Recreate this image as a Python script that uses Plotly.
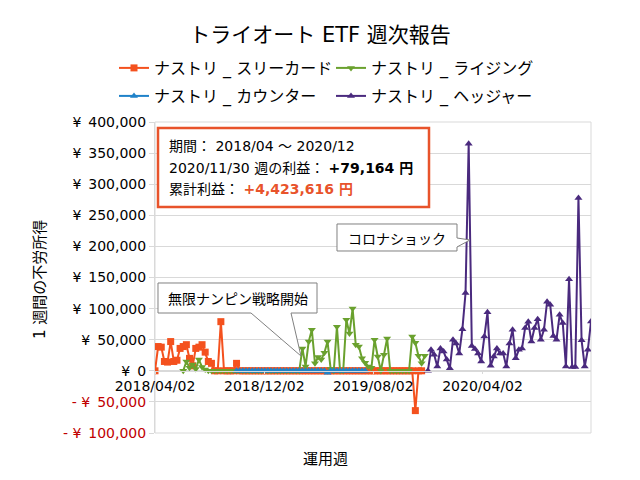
import pandas as pd
import plotly.graph_objects as go

# ---------------- data ----------------
start_date = "2018-04-02"
n_weeks = 140
weeks = pd.date_range(start_date, periods=n_weeks, freq="7D")

three_card_start = 0
three_card = [0, 39000, 38000, 15000, 14000, 47000, 15000, 17000, 36000, 39000,
              42000, 20000, 8000, 36000, 38000, 42000, 30000, 15000, 12000, 0,
              0, 79000, 0, 0, 0, 0, 12000] + [0] * 56 + [-64000, 0, 0]

rising_start = 9
rising = [0, 15000, 5000, 10000, 3000, 18000, 6000, 2000] + [0] * 30 + \
         [36000, 7000, 47000, 66000, 12000, 22000, 18000, 29000, 47000, 3000,
          0, 71000, 0, 0, 82000, 60000, 100000, 42000, 39000, 20000,
          13000, 7000, 5000, 50000, 23000, 0, 26000, 52000, 0] + [0] * 6 + \
         [55000, 45000, 24000, 12000, 24000]

counter_start = 26
counter = [0] * 29 + [-3000] + [0] * 12

hedger_start = 87
hedger = [0, 34000, 26000, 7000, 36000, 31000, 18000, 4000, 50000, 44000,
          28000, 67000, 125000, 365000, 40000, 35000, 28000, 15000, 55000, 94000,
          8000, 23000, 36000, 28000, 28000, 7000, 44000, 66000, 20000, 34000,
          36000, 69000, 79000, 47000, 69000, 83000, 50000, 66000, 111000, 106000,
          56000, 50000, 90000, 77000, 7000, 147000, 6000, 6000, 278000, 49000,
          7000, 34000, 79164]

series_names = ["ナストリ _ スリーカード", "ナストリ _ ライジング",
                "ナストリ _ カウンター", "ナストリ _ ヘッジャー"]

SP = "\u2002"
y_tick_vals = [400000, 350000, 300000, 250000, 200000, 150000, 100000, 50000, 0, -50000, -100000]
y_tick_text = [f"¥{SP}400,000", f"¥{SP}350,000", f"¥{SP}300,000", f"¥{SP}250,000", f"¥{SP}200,000",
               f"¥{SP}150,000", f"¥{SP}100,000", f"¥{SP}50,000", f"¥{SP}0",
               f"<span style='color:#c00000'>- ¥{SP}50,000</span>",
               f"<span style='color:#c00000'>- ¥{SP}100,000</span>"]

title_text = "トライオート ETF 週次報告"
info_lines = ["期間： 2018/04 ～ 2020/12",
              "2020/11/30 週の利益： <b>+79,164 円</b>",
              "累計利益： <b><span style='color:#e8532b'>+4,423,616 円</span></b>"]


def full(start, vals):
    out = [None] * n_weeks
    for i, v in enumerate(vals):
        out[start + i] = v
    return out


# ---------------- layout helpers ----------------
W, H = 640, 480
PL, PR, PT, PB = 155, 591, 122, 433


def fx(X):
    return (X - PL) / (PR - PL)


def fy(Y):
    return (PB - Y) / (PB - PT)


FONT = "DejaVu Sans, Noto Sans CJK JP"
CJK = "Noto Sans CJK JP"

colors = ["#f4511e", "#6aa12e", "#1f82c9", "#4a2a7e"]
symbols = ["square", "triangle-down", "triangle-up", "triangle-up"]
starts = [three_card_start, rising_start, counter_start, hedger_start]
vals = [three_card, rising, counter, hedger]
legends = ["legend", "legend", "legend2", "legend2"]

fig = go.Figure()
for name, c, s, st, v, lg in zip(series_names, colors, symbols, starts, vals, legends):
    fig.add_trace(go.Scatter(
        x=weeks, y=full(st, v), name=name, mode="lines+markers",
        line=dict(color=c, width=2),
        marker=dict(symbol=s, size=7, color=c),
        connectgaps=False, legend=lg,
    ))


def path(points):
    d = "M " + " L ".join(f"{fx(x):.5f},{fy(y):.5f}" for x, y in points) + " Z"
    return d


shapes = [
    # plot border
    dict(type="rect", xref="paper", yref="paper", x0=0, x1=1, y0=0, y1=1,
         line=dict(color="#d9d9d9", width=1), layer="below"),
    # info box
    dict(type="rect", xref="paper", yref="paper", x0=fx(158), x1=fx(429), y0=fy(128), y1=fy(207),
         line=dict(color="#e8532b", width=2.5), fillcolor="white", layer="above"),
    # callout 1
    dict(type="path", xref="paper", yref="paper",
         path=path([(158, 283), (317, 283), (317, 313), (291, 313), (301, 356), (251, 313), (158, 313)]),
         line=dict(color="#808080", width=1), fillcolor="white", layer="above"),
    # callout 2
    dict(type="path", xref="paper", yref="paper",
         path=path([(337, 224), (457, 224), (457, 238), (470, 240), (457, 247), (457, 251), (337, 251)]),
         line=dict(color="#808080", width=1), fillcolor="white", layer="above"),
]

annotations = [
    dict(text=info_lines[0], x=fx(167), y=fy(146), xref="paper", yref="paper",
         xanchor="left", yanchor="middle", showarrow=False, font=dict(size=14, color="#000")),
    dict(text=info_lines[1], x=fx(167), y=fy(168), xref="paper", yref="paper",
         xanchor="left", yanchor="middle", showarrow=False, font=dict(size=14, color="#000")),
    dict(text=info_lines[2], x=fx(167), y=fy(189), xref="paper", yref="paper",
         xanchor="left", yanchor="middle", showarrow=False, font=dict(size=14, color="#000")),
    dict(text="無限ナンピン戦略開始", x=fx(238), y=fy(298), xref="paper", yref="paper",
         xanchor="center", yanchor="middle", showarrow=False, font=dict(size=14, color="#000", family=CJK)),
    dict(text="コロナショック", x=fx(397), y=fy(237.5), xref="paper", yref="paper",
         xanchor="center", yanchor="middle", showarrow=False, font=dict(size=14, color="#000", family=CJK)),
    dict(text="1 週間の不労所得", x=fx(40), y=fy(280), xref="paper", yref="paper",
         xanchor="center", yanchor="middle", textangle=-90, showarrow=False,
         font=dict(size=15, color="#000")),
    dict(text="運用週", x=fx(325), y=fy(457), xref="paper", yref="paper",
         xanchor="center", yanchor="middle", showarrow=False, font=dict(size=15, color="#000", family=CJK)),
]

zero_pos = 100000 / 500000

fig.update_layout(
    width=W, height=H,
    margin=dict(l=PL, r=W - PR, t=PT, b=H - PB, pad=0, autoexpand=False),
    paper_bgcolor="white", plot_bgcolor="white",
    font=dict(family=FONT, size=15, color="#000"),
    title=dict(text=title_text, x=0.5, xanchor="center", y=1 - 35 / H, yanchor="middle",
               font=dict(size=21, color="#000")),
    xaxis=dict(type="date", range=[weeks[0], weeks[-1]], tick0=start_date, dtick="M8",
               tickformat="%Y/%m/%d", anchor="free", position=zero_pos,
               showline=True, linecolor="#d9d9d9", linewidth=1, showgrid=False, zeroline=False,
               ticks="outside", ticklen=2, tickcolor="#d9d9d9",
               tickfont=dict(size=14, color="#000")),
    yaxis=dict(range=[-100000, 400000], tickvals=y_tick_vals, ticktext=y_tick_text,
               showgrid=True, gridcolor="#d9d9d9", zeroline=False,
               showline=True, linecolor="#d9d9d9", ticks="outside", ticklen=5, tickcolor="#d9d9d9",
               tickfont=dict(size=14, color="#000")),
    legend=dict(orientation="h", x=fx(114), xanchor="left", y=fy(68), yanchor="middle",
                entrywidth=172, font=dict(size=16), bgcolor="rgba(0,0,0,0)", traceorder="normal"),
    legend2=dict(orientation="h", x=fx(114), xanchor="left", y=fy(96), yanchor="middle",
                 entrywidth=172, font=dict(size=16), bgcolor="rgba(0,0,0,0)", traceorder="normal"),
    shapes=shapes,
    annotations=annotations,
    showlegend=True,
)

fig.write_html("out.html", config={"displayModeBar": False},
               post_script="document.body.style.margin='0';document.body.style.overflow='hidden';")
